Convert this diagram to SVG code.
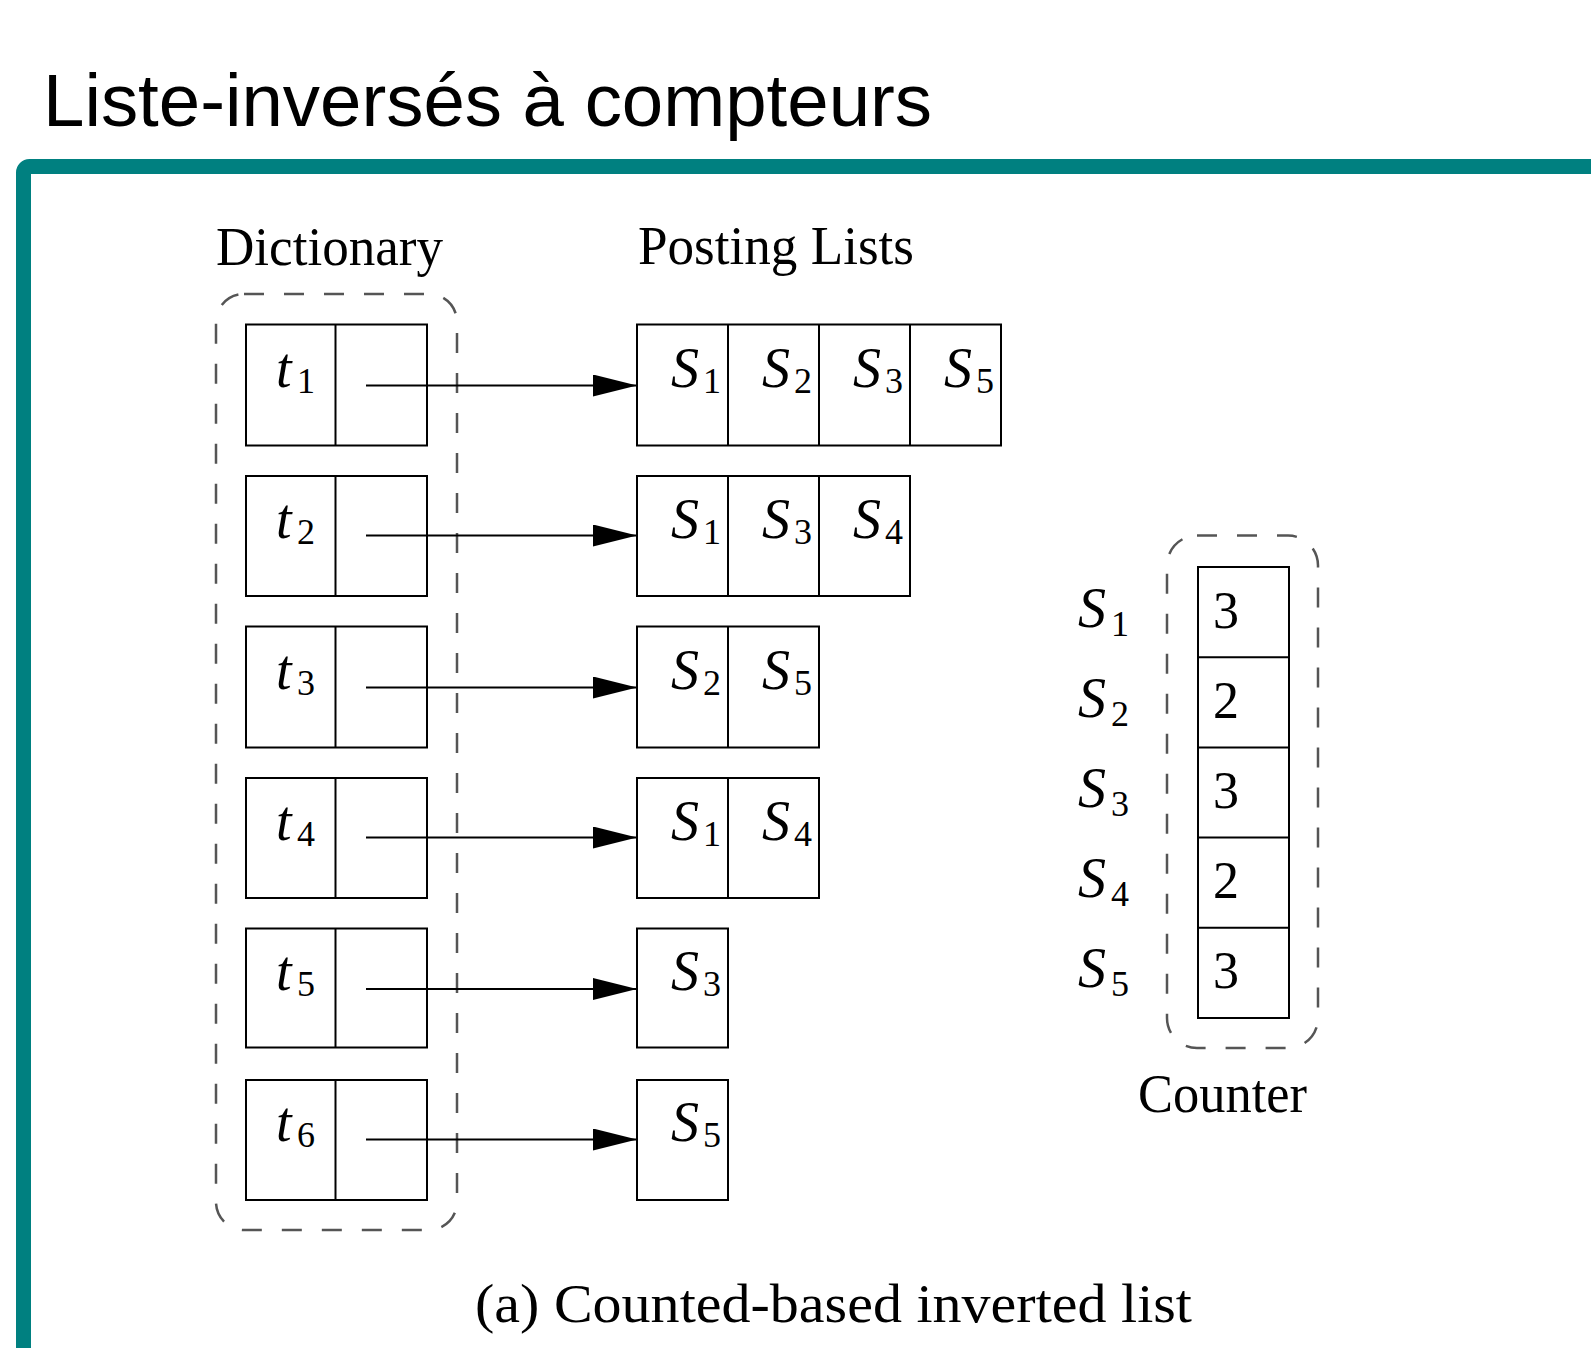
<svg xmlns="http://www.w3.org/2000/svg" width="1591" height="1348" viewBox="0 0 1591 1348">
<defs>
<style>
.box{fill:#fff;stroke:#000;stroke-width:2}
.ln{stroke:#000;stroke-width:2;fill:none}
.dash{fill:none;stroke:#555;stroke-width:2.5;stroke-dasharray:20 20}
.mi{font-family:"Liberation Serif",serif;font-style:italic;font-size:56px;fill:#000}
.sub{font-style:normal;font-size:36px}
.rm{font-family:"Liberation Serif",serif;font-size:54px;fill:#000}
.num{font-family:"Liberation Serif",serif;font-size:52px;fill:#000}
.edge{stroke:#000;stroke-width:2;fill:none;marker-end:url(#arr)}
.title{font-family:"Liberation Sans",Arial,sans-serif;font-size:74px;fill:#000}
</style>
<marker id="arr" markerUnits="userSpaceOnUse" markerWidth="46" markerHeight="24" refX="44" refY="11" orient="auto">
<path d="M0,0 L44,11 L0,22 z" fill="#000"/>
</marker>
</defs>
<rect width="1591" height="1348" fill="#fff"/>
<text class="title" x="43" y="126" textLength="889" lengthAdjust="spacingAndGlyphs">Liste-inversés à compteurs</text>
<rect x="23.5" y="166.5" width="1600" height="1300" rx="6" fill="none" stroke="#008080" stroke-width="15"/>

<text class="rm" x="216" y="265" textLength="227" lengthAdjust="spacingAndGlyphs">Dictionary</text>
<text class="rm" x="638" y="264" textLength="276" lengthAdjust="spacingAndGlyphs">Posting Lists</text>
<text class="rm" x="1138" y="1112" textLength="169" lengthAdjust="spacingAndGlyphs">Counter</text>
<text class="rm" x="475" y="1322" textLength="717" lengthAdjust="spacingAndGlyphs">(a) Counted-based inverted list</text>

<g id="dictionary">
<rect class="dash" x="216" y="294" width="241" height="936" rx="28"/>
<g id="t1"><rect class="box" x="246" y="324.5" width="181" height="121"/><line class="ln" x1="335.5" y1="324.5" x2="335.5" y2="445.5"/><text class="mi" x="276" y="387">t<tspan class="sub" x="297" y="393">1</tspan></text></g>
<g id="t2"><rect class="box" x="246" y="476" width="181" height="120"/><line class="ln" x1="335.5" y1="476" x2="335.5" y2="596"/><text class="mi" x="276" y="538">t<tspan class="sub" x="297" y="544">2</tspan></text></g>
<g id="t3"><rect class="box" x="246" y="626.5" width="181" height="121"/><line class="ln" x1="335.5" y1="626.5" x2="335.5" y2="747.5"/><text class="mi" x="276" y="689">t<tspan class="sub" x="297" y="695">3</tspan></text></g>
<g id="t4"><rect class="box" x="246" y="778" width="181" height="120"/><line class="ln" x1="335.5" y1="778" x2="335.5" y2="898"/><text class="mi" x="276" y="840">t<tspan class="sub" x="297" y="846">4</tspan></text></g>
<g id="t5"><rect class="box" x="246" y="928.5" width="181" height="119"/><line class="ln" x1="335.5" y1="928.5" x2="335.5" y2="1047.5"/><text class="mi" x="276" y="990">t<tspan class="sub" x="297" y="996">5</tspan></text></g>
<g id="t6"><rect class="box" x="246" y="1080" width="181" height="120"/><line class="ln" x1="335.5" y1="1080" x2="335.5" y2="1200"/><text class="mi" x="276" y="1141">t<tspan class="sub" x="297" y="1147">6</tspan></text></g>
</g>

<g id="posting1">
<rect class="box" x="637" y="324.5" width="364" height="121"/>
<path class="ln" d="M728,324.5V445.5M819,324.5V445.5M910,324.5V445.5"/>
<text class="mi" x="671" y="387">S<tspan class="sub" x="703" y="393">1</tspan></text>
<text class="mi" x="762" y="387">S<tspan class="sub" x="794" y="393">2</tspan></text>
<text class="mi" x="853" y="387">S<tspan class="sub" x="885" y="393">3</tspan></text>
<text class="mi" x="944" y="387">S<tspan class="sub" x="976" y="393">5</tspan></text>
</g>
<g id="posting2">
<rect class="box" x="637" y="476" width="273" height="120"/>
<path class="ln" d="M728,476V596M819,476V596"/>
<text class="mi" x="671" y="538">S<tspan class="sub" x="703" y="544">1</tspan></text>
<text class="mi" x="762" y="538">S<tspan class="sub" x="794" y="544">3</tspan></text>
<text class="mi" x="853" y="538">S<tspan class="sub" x="885" y="544">4</tspan></text>
</g>
<g id="posting3">
<rect class="box" x="637" y="626.5" width="182" height="121"/>
<path class="ln" d="M728,626.5V747.5"/>
<text class="mi" x="671" y="689">S<tspan class="sub" x="703" y="695">2</tspan></text>
<text class="mi" x="762" y="689">S<tspan class="sub" x="794" y="695">5</tspan></text>
</g>
<g id="posting4">
<rect class="box" x="637" y="778" width="182" height="120"/>
<path class="ln" d="M728,778V898"/>
<text class="mi" x="671" y="840">S<tspan class="sub" x="703" y="846">1</tspan></text>
<text class="mi" x="762" y="840">S<tspan class="sub" x="794" y="846">4</tspan></text>
</g>
<g id="posting5">
<rect class="box" x="637" y="928.5" width="91" height="119"/>
<text class="mi" x="671" y="990">S<tspan class="sub" x="703" y="996">3</tspan></text>
</g>
<g id="posting6">
<rect class="box" x="637" y="1080" width="91" height="120"/>
<text class="mi" x="671" y="1141">S<tspan class="sub" x="703" y="1147">5</tspan></text>
</g>

<g id="counter">
<rect class="dash" x="1167" y="535.5" width="151" height="512.5" rx="30"/>
<rect class="box" x="1198" y="567" width="91" height="451"/>
<path class="ln" d="M1198,657.2H1289M1198,747.4H1289M1198,837.6H1289M1198,927.8H1289"/>
<text class="num" x="1213" y="628">3</text>
<text class="num" x="1213" y="718">2</text>
<text class="num" x="1213" y="808">3</text>
<text class="num" x="1213" y="898">2</text>
<text class="num" x="1213" y="988">3</text>
<text class="mi" x="1078" y="627">S<tspan class="sub" x="1111" y="636">1</tspan></text>
<text class="mi" x="1078" y="717">S<tspan class="sub" x="1111" y="726">2</tspan></text>
<text class="mi" x="1078" y="807">S<tspan class="sub" x="1111" y="816">3</tspan></text>
<text class="mi" x="1078" y="897">S<tspan class="sub" x="1111" y="906">4</tspan></text>
<text class="mi" x="1078" y="987">S<tspan class="sub" x="1111" y="996">5</tspan></text>
</g>

<g id="connectors">
<line class="edge" x1="366" y1="385.5" x2="637" y2="385.5"/>
<line class="edge" x1="366" y1="535.5" x2="637" y2="535.5"/>
<line class="edge" x1="366" y1="687.5" x2="637" y2="687.5"/>
<line class="edge" x1="366" y1="837.5" x2="637" y2="837.5"/>
<line class="edge" x1="366" y1="989" x2="637" y2="989"/>
<line class="edge" x1="366" y1="1139.5" x2="637" y2="1139.5"/>
</g>
</svg>
